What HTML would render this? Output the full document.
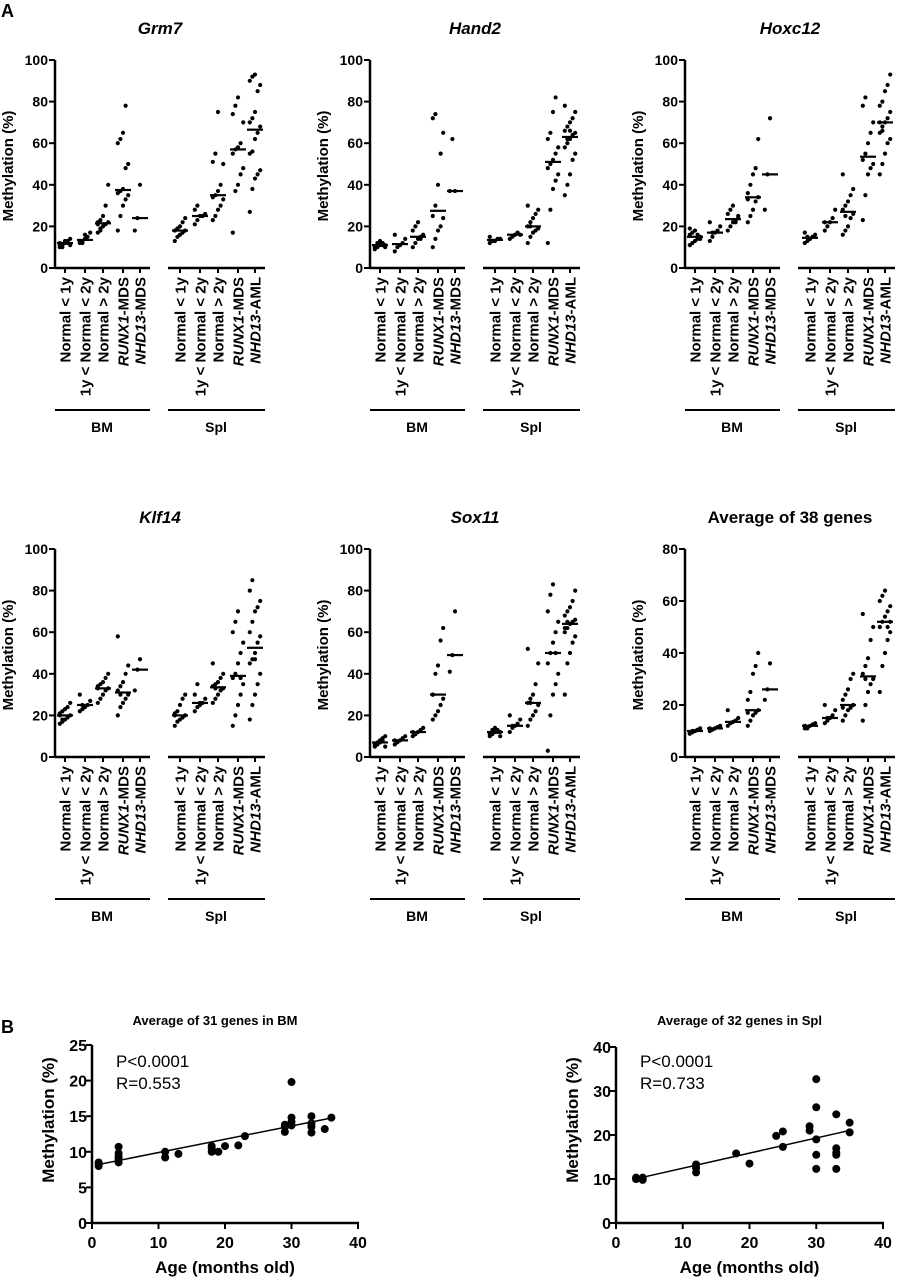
<!DOCTYPE html>
<html><head><meta charset="utf-8"><style>
body{margin:0;background:#fff}
svg{display:block;font-family:"Liberation Sans",Arial,sans-serif}
</style></head><body>
<svg id="fig" width="911" height="1280" viewBox="0 0 911 1280"></svg>
<script>
const groupLabels=[["Normal < 1y"],["1y < Normal < 2y"],["Normal > 2y"],["RUNX1","-MDS"],["NHD13","-MDS"],["Normal < 1y"],["1y < Normal < 2y"],["Normal > 2y"],["RUNX1","-MDS"],["NHD13","-AML"]];
const panelTitles=["Grm7","Hand2","Hoxc12","Klf14","Sox11","Average of 38 genes"];
const panelYMax=[100,100,100,100,100,80];
const grm7=[[10,11,12,13,11,12,10,13,12,14,11],[12,13,14,15,17,13,12,16],[17,18,20,21,22,22,23,25,30,40,21,19],[18,25,30,33,35,36,37,38,48,50,60,62,65,78],[18,24,40],
[13,15,16,17,18,18,19,20,22,24],[21,23,25,25,26,28,30],[23,25,28,30,33,34,35,37,40,50,51,55,75],[17,37,40,45,48,55,57,58,60,70,74,78,82],[27,38,43,45,47,55,56,62,65,68,70,72,75,85,88,90,92,93]];
const hand2=[[9,10,11,12,11,10,12,13,11,10],[8,10,11,12,14,16],[10,12,14,15,16,18,20,22,14],[10,14,18,20,24,25,30,40,55,65,72,74],[37,62,37],
[12,13,13,14,14,15],[14,15,16,17,16],[12,15,17,18,19,20,22,24,26,28,30,20],[12,28,38,42,45,48,50,52,55,58,62,65,75,82],[35,40,45,52,55,58,60,62,64,65,66,68,70,72,75,78,62,66]];
const hoxc12=[[11,12,13,14,15,16,17,18,16,14,19],[13,15,17,18,20,22,17],[18,20,22,23,25,26,28,30,22,24],[22,25,28,32,34,36,40,45,48,62,33],[28,45,72],
[12,13,14,15,16,17,15,14],[18,20,22,24,28,22],[16,18,20,24,26,28,30,32,35,38,45,25],[23,35,45,48,50,52,55,60,65,70,78,82],[45,50,55,60,62,65,68,70,72,75,78,80,85,88,93,70,66]];
const klf14=[[16,17,18,19,20,21,22,23,24,26,20,18],[22,23,24,25,27,30,25],[26,28,30,32,33,34,35,36,38,40,33],[20,24,26,28,30,32,34,36,40,44,58,30],[32,42,47],
[15,17,18,19,20,21,22,25,28,30,20],[22,24,25,26,28,30,35,26],[26,28,30,32,33,34,35,36,38,40,45,33],[15,20,25,30,35,38,40,45,50,55,60,65,70,38],[18,25,30,35,40,45,47,50,55,58,60,65,70,72,75,80,85,47]];
const sox11=[[5,6,7,8,5,6,7,8,9,10],[6,7,8,9,10,8],[10,11,12,13,14,12,11],[18,20,22,25,28,30,40,44,56,62,30],[41,49,70],
[10,11,12,13,12,11,13,14,12,10],[12,14,15,16,18,20,15],[15,18,20,22,25,26,28,30,35,45,52,26],[3,20,30,35,40,45,50,55,60,65,70,78,83,50],[30,45,50,55,58,60,62,64,65,66,68,70,72,75,80,62,65]];
const avg38=[[9,9.5,10,10.5,11,9,10,10],[10,10.5,11,11.5,12,11],[12,13,13.5,14,15,18,13],[12,14,16,17,18,22,25,32,35,40,17],[22,26,36],
[11,11.5,12,12.5,13,12,11],[13,14,15,16,18,20,15],[14,16,18,19,20,22,24,26,30,32,19],[14,20,25,28,30,32,35,38,45,50,55,30],[25,35,40,45,48,50,52,54,56,58,60,62,64,50,52]];
const panelData=[grm7,hand2,hoxc12,klf14,sox11,avg38];
const bmAge=[1,1,1,4,4,4,4,4,11,11,13,18,18,18,19,20,22,23,29,29,29,30,30,30,30,33,33,33,33,35,36];
const bmMeth=[8,8.3,8.5,8.5,9,9.3,9.8,10.7,9.2,10,9.7,10,10.5,10.8,10,10.8,10.9,12.2,12.8,13.5,13.8,13.7,14.2,14.8,19.8,12.7,13.5,14,15,13.2,14.8];
const splAge=[3,3,4,4,4,12,12,12,18,20,24,25,25,29,29,30,30,30,30,30,33,33,33,33,33,35,35];
const splMeth=[10,10.3,9.8,10,10.3,11.5,12.5,13.3,15.8,13.5,19.8,17.3,20.8,22,21,32.7,26.3,19,15.5,12.3,17,15.5,24.7,16,12.3,22.8,20.6];
const xTicks=[0,10,20,30,40];

const NS="http://www.w3.org/2000/svg";
const svg=document.getElementById('fig');
function mk(tag,attrs,parent,text){const e=document.createElementNS(NS,tag);for(const k in attrs)e.setAttribute(k,attrs[k]);if(text!==undefined)e.textContent=text;(parent||svg).appendChild(e);return e;}
function median(a){const s=[...a].sort((x,y)=>x-y);const n=s.length;return n%2?s[(n-1)/2]:(s[n/2-1]+s[n/2])/2;}

let t=mk('text',{x:1,y:17,'font-size':18,'font-weight':'bold'},svg,'A');

t=mk('text',{x:1,y:1033,'font-size':18,'font-weight':'bold'},svg,'B');


const gx=[65,85,103,123,140,180,200,218,238,255];
panelData.forEach((data,p)=>{
  const ox=(p%3)*315, oy=Math.floor(p/3)*489;
  const g=mk('g',{transform:`translate(${ox},${oy})`});
  
  
  const ymax=panelYMax[p];
  const y0=268,y1=60;
  const ys=v=>y0-(v/ymax)*(y0-y1);
  const tt=mk('text',{x:160,y:34,'font-size':17,'font-weight':'bold','text-anchor':'middle','font-style':p<5?'italic':'normal'},g,panelTitles[p]);
  
  mk('line',{x1:55,y1:y1,x2:55,y2:y0+1,stroke:'#000','stroke-width':2.5},g);
  const step=20;
  for(let v=0;v<=ymax;v+=step){
    mk('line',{x1:49,y1:ys(v),x2:55,y2:ys(v),stroke:'#000','stroke-width':2},g);
    const tl=mk('text',{x:48,y:ys(v)+5,'font-size':14,'font-weight':'bold','text-anchor':'end'},g,String(v));
    
  }
  const yl=mk('text',{x:0,y:0,'font-size':15,'font-weight':'bold','text-anchor':'middle',transform:`translate(13,166) rotate(-90)`},g,'Methylation (%)');
  
  mk('line',{x1:55,y1:y0,x2:150,y2:y0,stroke:'#000','stroke-width':2.5},g);
  mk('line',{x1:168,y1:y0,x2:265,y2:y0,stroke:'#000','stroke-width':2.5},g);
  data.forEach((vals,i)=>{
    const cx=gx[i];
    mk('line',{x1:cx,y1:y0,x2:cx,y2:y0+5,stroke:'#000','stroke-width':2},g);
    vals.forEach((v,j)=>{
      const off=((j%5)-2)*2.6;
      const c=mk('circle',{cx:cx+off,cy:ys(v),r:2.1,fill:'#000'},g);
      
    });
    const m=median(vals);
    const ml=mk('line',{x1:cx-8,y1:ys(m),x2:cx+8,y2:ys(m),stroke:'#000','stroke-width':2.2},g);
    
    const lab=groupLabels[i];
    const xt=mk('text',{x:0,y:0,'font-size':15,'font-weight':'bold','text-anchor':'end',transform:`translate(${cx+5.5},277) rotate(-90)`},g);
    
    if(lab.length===2){mk('tspan',{'font-style':'italic'},xt,lab[0]);mk('tspan',{},xt,lab[1]);}
    else xt.textContent=lab[0];
  });
  mk('line',{x1:55,y1:410,x2:150,y2:410,stroke:'#000','stroke-width':2},g);
  mk('line',{x1:168,y1:410,x2:265,y2:410,stroke:'#000','stroke-width':2},g);
  let bl=mk('text',{x:102,y:432,'font-size':14,'font-weight':'bold','text-anchor':'middle'},g,'BM');
  
  bl=mk('text',{x:216,y:432,'font-size':14,'font-weight':'bold','text-anchor':'middle'},g,'Spl');
  
});

function scatter(ax,ay,x0,x40,yTop,ymax,ystep,title,stats,name){
  const g=mk('g',{});
  
  const yb=1223;
  const xs=v=>x0+v/40*(x40-x0), ys=v=>yb-v/ymax*(yb-yTop);
  const tt=mk('text',{x:(x0+x40)/2-10,y:1025,'font-size':13,'font-weight':'bold','text-anchor':'middle'},g,title);
  
  mk('line',{x1:x0,y1:yTop,x2:x0,y2:yb,stroke:'#000','stroke-width':2.5},g);
  mk('line',{x1:x0,y1:yb,x2:x40+1,y2:yb,stroke:'#000','stroke-width':2.5},g);
  for(let v=0;v<=ymax;v+=ystep){
    mk('line',{x1:x0-6,y1:ys(v),x2:x0,y2:ys(v),stroke:'#000','stroke-width':2},g);
    const l=mk('text',{x:x0-5,y:ys(v)+6,'font-size':16,'font-weight':'bold','text-anchor':'end'},g,String(v));
    
  }
  xTicks.forEach(v=>{
    mk('line',{x1:xs(v),y1:yb,x2:xs(v),y2:yb+6,stroke:'#000','stroke-width':2},g);
    const l=mk('text',{x:xs(v),y:yb+25,'font-size':16,'font-weight':'bold','text-anchor':'middle'},g,String(v));
    
  });
  const xl=mk('text',{x:(x0+x40)/2,y:1273,'font-size':17,'font-weight':'bold','text-anchor':'middle'},g,'Age (months old)');
  
  const yl=mk('text',{x:0,y:0,'font-size':17,'font-weight':'bold','text-anchor':'middle',transform:`translate(${x0-38},1120) rotate(-90)`},g,'Methylation (%)');
  
  const n=ax.length,mx=ax.reduce((a,b)=>a+b)/n,my=ay.reduce((a,b)=>a+b)/n;
  let sxy=0,sxx=0;ax.forEach((x,i)=>{sxy+=(x-mx)*(ay[i]-my);sxx+=(x-mx)*(x-mx);});
  const b=sxy/sxx,a=my-b*mx;const xmin=Math.min(...ax),xmax=Math.max(...ax);
  const rl=mk('line',{x1:xs(xmin),y1:ys(a+b*xmin),x2:xs(xmax),y2:ys(a+b*xmax),stroke:'#000','stroke-width':1.5},g);
  
  ax.forEach((x,i)=>{
    const c=mk('circle',{cx:xs(x),cy:ys(ay[i]),r:4,fill:'#000'},g);
    
  });
  let s=mk('text',{x:x0+24,y:1067,'font-size':17},g,stats[0]);
  
  s=mk('text',{x:x0+24,y:1089,'font-size':17},g,stats[1]);
  
}
scatter(bmAge,bmMeth,92,358,1045,25,5,'Average of 31 genes in BM',['P<0.0001','R=0.553'],'bm-age-scatter');
scatter(splAge,splMeth,616,883,1047,40,10,'Average of 32 genes in Spl',['P<0.0001','R=0.733'],'spl-age-scatter');
</script>
</body></html>
